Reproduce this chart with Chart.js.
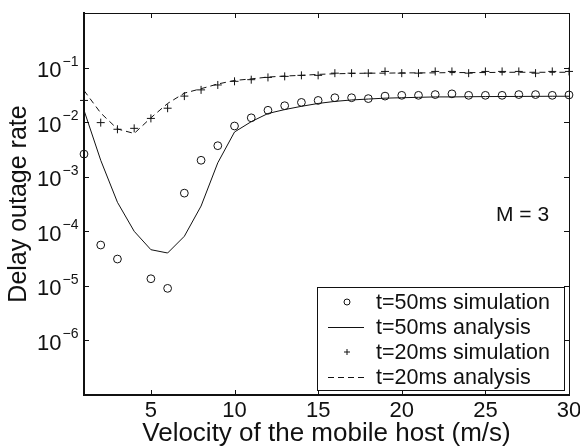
<!DOCTYPE html>
<html>
<head>
<meta charset="utf-8">
<script src="https://cdn.jsdelivr.net/npm/chart.js@4/dist/chart.umd.min.js"></script>
<style>
html, body { margin: 0; padding: 0; background: #fff; }
</style>
</head>
<body>
<canvas id="delay-chart" width="580" height="447"></canvas>
<script>
const speeds = [1, 2, 3, 4, 5, 6, 7, 8, 9, 10, 11, 12, 13, 14, 15, 16, 17, 18, 19, 20, 21, 22, 23, 24, 25, 26, 27, 28, 29, 30];
const sim50 = [2.6e-3, 5.6e-5, 3.1e-5, null, 1.35e-5, 9e-6, 5e-4, 2e-3, 3.7e-3, 8.5e-3, 1.2e-2, 1.65e-2, 2.0e-2, 2.3e-2, 2.5e-2,
  2.8e-2, 2.8e-2, 2.7e-2, 3.0e-2, 3.1e-2, 3.1e-2, 3.2e-2, 3.3e-2, 3.1e-2, 3.1e-2, 3.1e-2, 3.2e-2, 3.2e-2, 3.1e-2, 3.15e-2];
const ana50 = [1.65e-2, 2e-3, 3.4e-4, 1.0e-4, 4.6e-5, 4.0e-5, 8.1e-5, 2.9e-4, 1.8e-3, 6.6e-3, 1.02e-2, 1.44e-2, 1.7e-2, 1.95e-2, 2.2e-2,
  2.4e-2, 2.55e-2, 2.65e-2, 2.75e-2, 2.8e-2, 2.85e-2, 2.9e-2, 2.9e-2, 2.92e-2, 2.94e-2, 2.95e-2, 2.96e-2, 2.97e-2, 2.98e-2, 2.98e-2];
const sim20 = [2.5e-2, 9.8e-3, 7.4e-3, 7.7e-3, 1.17e-2, 1.8e-2, 3.0e-2, 3.9e-2, 4.8e-2, 5.6e-2, 6.0e-2, 6.6e-2, 6.9e-2, 7.2e-2, 7.2e-2,
  7.9e-2, 7.9e-2, 7.9e-2, 8.5e-2, 7.9e-2, 7.9e-2, 8.5e-2, 8.5e-2, 7.9e-2, 8.5e-2, 8.5e-2, 8.5e-2, 7.9e-2, 8.5e-2, 8.5e-2];
const ana20 = [3.8e-2, 1.47e-2, 7.5e-3, 6.2e-3, 1.2e-2, 2.2e-2, 3.4e-2, 4.1e-2, 5e-2, 5.8e-2, 6.2e-2, 6.7e-2, 7e-2, 7.2e-2, 7.5e-2,
  7.7e-2, 7.8e-2, 7.9e-2, 7.9e-2, 8e-2, 8e-2, 8e-2, 8.1e-2, 8.1e-2, 8.1e-2, 8.2e-2, 8.2e-2, 8.2e-2, 8.2e-2, 8.2e-2];

const xTicks = [5, 10, 15, 20, 25, 30];
const yTickExps = [-6, -5, -4, -3, -2, -1];
const yDecades = [-7, -6, -5, -4, -3, -2, -1, 0];

const FONT = "'Liberation Sans', Arial, Helvetica, sans-serif";

const pts = vals => speeds.map((s, i) => ({ x: s, y: vals[i] }));

// matlab-like box: thin top/right border, inward ticks, superscript y labels, legend and note
const matlabBox = {
  id: 'matlabBox',
  afterDatasetsDraw(chart) {
    const { ctx, chartArea: a, scales: { x, y } } = chart;
    ctx.save();
    ctx.strokeStyle = '#111';
    ctx.lineWidth = 1;
    ctx.beginPath();
    ctx.moveTo(a.left, a.top + 0.5);
    ctx.lineTo(a.right + 0.5, a.top + 0.5);
    ctx.lineTo(a.right + 0.5, a.bottom);
    ctx.stroke();

    ctx.beginPath();
    xTicks.forEach(v => {
      const px = Math.round(x.getPixelForValue(v)) + 0.5;
      ctx.moveTo(px, a.bottom); ctx.lineTo(px, a.bottom - 5);
      ctx.moveTo(px, a.top); ctx.lineTo(px, a.top + 5);
    });
    yDecades.forEach(k => {
      const py = Math.round(y.getPixelForValue(Math.pow(10, k))) + 0.5;
      ctx.moveTo(a.left, py); ctx.lineTo(a.left + 5, py);
      ctx.moveTo(a.right, py); ctx.lineTo(a.right - 5, py);
    });
    ctx.stroke();
    ctx.restore();
  },
  afterDraw(chart) {
    const { ctx, chartArea: a, scales: { y } } = chart;
    ctx.save();
    ctx.fillStyle = '#111';

    // y tick labels 10^k
    ctx.textAlign = 'right';
    ctx.textBaseline = 'alphabetic';
    yTickExps.forEach(k => {
      const py = y.getPixelForValue(Math.pow(10, k));
      const exp = '\u2212' + Math.abs(k);
      ctx.font = '14px ' + FONT;
      const ew = ctx.measureText(exp).width;
      ctx.fillText(exp, a.left - 5.5, py - 2);
      ctx.font = '22px ' + FONT;
      ctx.fillText('10', a.left - 6.5 - ew, py + 9.5);
    });

    // note
    ctx.textAlign = 'left';
    ctx.font = '21px ' + FONT;
    ctx.fillText('M = 3', a.right - 73, 221);

    // legend
    const box = { left: a.left + 233, right: a.right - 5, bottom: a.bottom - 5 };
    box.top = box.bottom - 103;
    ctx.fillStyle = '#fff';
    ctx.fillRect(box.left, box.top, box.right - box.left, box.bottom - box.top);
    ctx.strokeStyle = '#111';
    ctx.lineWidth = 1;
    ctx.strokeRect(box.left + 0.5, box.top + 0.5, box.right - box.left, box.bottom - box.top);

    ctx.font = '21.5px ' + FONT;
    ctx.textBaseline = 'middle';
    chart.data.datasets.forEach((ds, i) => {
      const cy = box.top + 15 + i * 25;
      const cx = box.left + 30;
      ctx.strokeStyle = '#111';
      ctx.lineWidth = 1;
      ctx.setLineDash([]);
      if (ds.showLine === false) {
        ctx.beginPath();
        if (ds.pointStyle === 'circle') {
          ctx.arc(cx, cy, 3, 0, Math.PI * 2);
        } else {
          ctx.moveTo(cx - 3, cy); ctx.lineTo(cx + 3, cy);
          ctx.moveTo(cx, cy - 3); ctx.lineTo(cx, cy + 3);
        }
        ctx.stroke();
      } else {
        ctx.setLineDash(ds.borderDash || []);
        ctx.beginPath();
        ctx.moveTo(box.left + 11, cy + 0.5);
        ctx.lineTo(box.left + 47, cy + 0.5);
        ctx.stroke();
        ctx.setLineDash([]);
      }
      ctx.fillStyle = '#111';
      ctx.fillText(ds.label, box.left + 59, cy + 1);
    });
    ctx.restore();
  }
};

const ctx = document.getElementById('delay-chart').getContext('2d');
const delayChart = new Chart(ctx, {
  type: 'line',
  data: {
    datasets: [{
      label: 't=50ms simulation',
      data: pts(sim50),
      showLine: false,
      pointStyle: 'circle',
      pointRadius: 3.9,
      pointBorderWidth: 1,
      borderColor: '#111',
      backgroundColor: 'rgba(0,0,0,0)',
      clip: false
    }, {
      label: 't=50ms analysis',
      data: pts(ana50),
      borderColor: '#111',
      borderWidth: 1,
      pointRadius: 0,
      tension: 0,
      clip: false
    }, {
      label: 't=20ms simulation',
      data: pts(sim20),
      showLine: false,
      pointStyle: 'cross',
      pointRadius: 4,
      pointBorderWidth: 1,
      borderColor: '#111',
      backgroundColor: '#111',
      clip: false
    }, {
      label: 't=20ms analysis',
      data: pts(ana20),
      borderColor: '#111',
      borderWidth: 1,
      borderDash: [6, 4],
      pointRadius: 0,
      tension: 0,
      clip: false
    }]
  },
  options: {
    responsive: false,
    animation: false,
    layout: { padding: { top: 13, right: 11, bottom: 0, left: 0 } },
    scales: {
      x: {
        type: 'linear',
        min: 1,
        max: 30,
        afterBuildTicks: s => { s.ticks = xTicks.map(v => ({ value: v })); },
        afterFit: s => { s.height = 52; s.paddingLeft = 0; s.paddingRight = 0; },
        ticks: {
          color: '#111',
          padding: 3,
          maxRotation: 0,
          autoSkip: false,
          font: { family: FONT, size: 22 }
        },
        grid: { drawOnChartArea: false, drawTicks: false },
        border: { display: true, width: 2, color: '#111' },
        title: {
          display: true,
          text: 'Velocity of the mobile host (m/s)',
          color: '#111',
          font: { family: FONT, size: 26, lineHeight: 1.05 },
          padding: { top: 0, bottom: 0 }
        }
      },
      y: {
        type: 'logarithmic',
        min: 1e-7,
        max: 1,
        afterBuildTicks: s => { s.ticks = yDecades.map(k => ({ value: Math.pow(10, k) })); },
        afterFit: s => { s.width = 84; },
        ticks: { display: false },
        grid: { drawOnChartArea: false, drawTicks: false },
        border: { display: true, width: 2, color: '#111' },
        title: {
          display: true,
          text: 'Delay outage rate',
          color: '#111',
          font: { family: FONT, size: 25 },
          padding: { top: 4, bottom: 0 }
        }
      }
    },
    plugins: {
      legend: { display: false },
      tooltip: { enabled: false }
    }
  },
  plugins: [matlabBox]
});
</script>
</body>
</html>
